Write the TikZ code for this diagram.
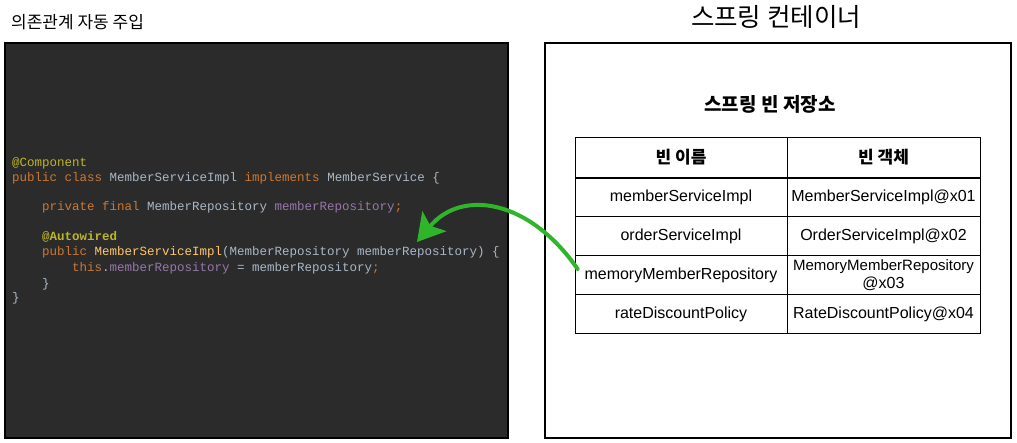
\documentclass[tikz,border=0pt]{standalone}
\usepackage{fontspec}
\setmainfont{Liberation Sans}
\setmonofont{Liberation Mono}
\newfontfamily\krfont{Noto Sans CJK KR}
\usetikzlibrary{arrows.meta, positioning, calc}
\definecolor{codebg}{HTML}{2B2B2B}
\definecolor{codegrey}{HTML}{A9B7C6}
\definecolor{keyorange}{HTML}{CC7832}
\definecolor{annoyellow}{HTML}{BBB529}
\definecolor{fieldpurple}{HTML}{9876AA}
\definecolor{methodgold}{HTML}{FFC66D}
\definecolor{injectgreen}{HTML}{2FB52A}

\begin{document}
\begin{tikzpicture}[x=1pt, y=-1pt,
    codeline/.style={anchor=west, inner sep=0pt, text=codegrey, font=\fontsize{12.5}{14}\selectfont\ttfamily},
    headcell/.style={draw, line width=0.8pt, minimum width=212pt, minimum height=41pt, inner sep=0pt, font=\krfont\bfseries\fontsize{17}{19}\selectfont},
    beancell/.style={draw, line width=0.8pt, minimum height=39pt, inner sep=0pt, align=center, font=\fontsize{16}{18}\selectfont}]
  \useasboundingbox (0,0) rectangle (1017,443);

  % titles
  \node[anchor=west, inner sep=0pt, font=\krfont\fontsize{17}{18}\selectfont] (dititle) at (11,22) {의존관계 자동 주입};
  \node[inner sep=0pt, font=\krfont\fontsize{25.5}{26}\selectfont] (containertitle) at (776,17) {스프링 컨테이너};

  % code panel
  \draw[black, line width=2pt, fill=codebg] (5,43) rectangle (508,438);
  \node[codeline] (comp) at (12,163) {\color{annoyellow}@Component};
  \node[codeline] (cls) at (12,178) {{\color{keyorange}public class} MemberServiceImpl {\color{keyorange}implements} MemberService \{};
  \node[codeline] (field) at (42,207) {{\color{keyorange}private final} MemberRepository {\color{fieldpurple}memberRepository}{\color{keyorange};}};
  \node[codeline] (auto) at (42,237) {\color{annoyellow}\bfseries @Autowired};
  \node[codeline] (ctor) at (42,252) {{\color{keyorange}public} {\color{methodgold}MemberServiceImpl}(MemberRepository memberRepository) \{};
  \node[codeline] (assign) at (72,268) {{\color{keyorange}this}.{\color{fieldpurple}memberRepository} = memberRepository{\color{keyorange};}};
  \node[codeline] (close1) at (42,284) {\}};
  \node[codeline] (close2) at (12,298) {\}};
  \coordinate (inject) at (417,242);

  % container panel
  \draw[black, line width=2.5pt, fill=white] (545,43) rectangle (1011,438);
  \node[inner sep=0pt, font=\krfont\bfseries\fontsize{19}{20}\selectfont] (storetitle) at (770,104) {스프링 빈 저장소};

  % bean table
  \node[headcell, minimum width=212pt] (head-name) at (681,157.5) {빈 이름};
  \node[headcell, minimum width=193pt] (head-obj) at (883.5,157.5) {빈 객체};
  \foreach \bname/\bobj [count=\i] in {
      memberServiceImpl/MemberServiceImpl@x01,
      orderServiceImpl/OrderServiceImpl@x02,
      memoryMemberRepository/{\fontsize{15}{18}\selectfont MemoryMemberRepository\\@x03},
      rateDiscountPolicy/RateDiscountPolicy@x04} {
    \node[beancell, minimum width=212pt] (name-\i) at (681,158+39*\i) {\bname};
    \node[beancell, minimum width=193pt] (obj-\i) at (883.5,158+39*\i) {\bobj};
  }

  % injection arrow
  \draw[injectgreen, line width=4pt, line cap=round, -{Stealth[length=27pt, width=31pt, inset=6pt]}]
    ($(name-3.west)+(3,-6)$) .. controls (530,200) and (462,188) .. (inject);
\end{tikzpicture}
\end{document}
